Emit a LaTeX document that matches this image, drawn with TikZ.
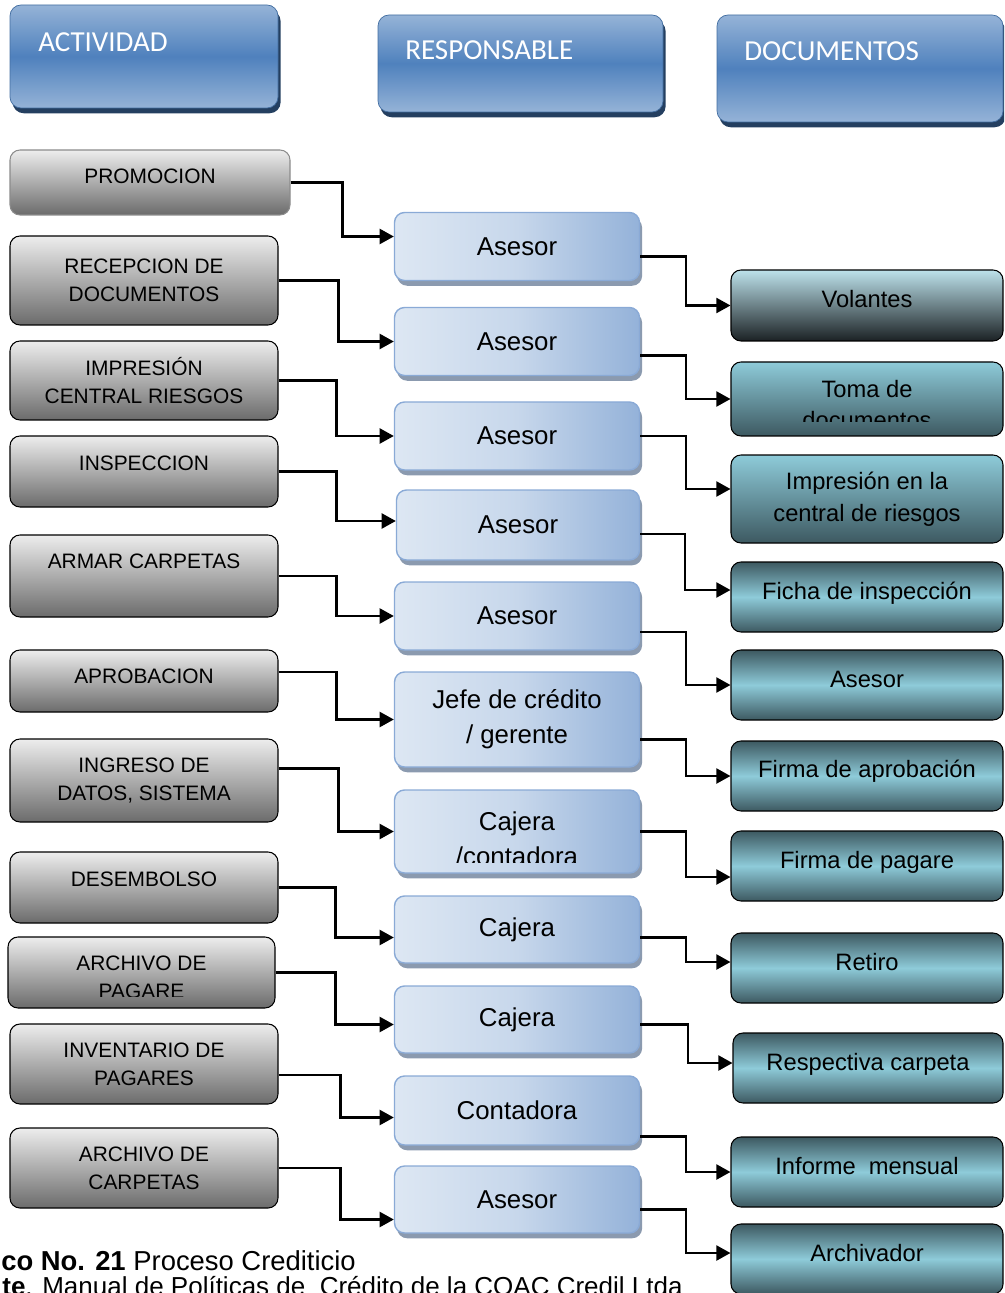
\documentclass[tikz,border=0pt]{standalone}
\usepackage{fontspec}
\setmainfont{Liberation Sans}
\newfontfamily\hdrfont{Carlito}
\usetikzlibrary{arrows.meta, shadows, calc}
\definecolor{hdrblue}{HTML}{4F81BD}
\definecolor{hdrlight}{HTML}{95B3D7}
\definecolor{hdrshadow}{HTML}{243F60}
\definecolor{resplight}{HTML}{DDE7F3}
\definecolor{respblue}{HTML}{94B2D9}
\definecolor{respedge}{HTML}{8AAAD6}
\definecolor{respshadow}{HTML}{8B9AAF}
\definecolor{doclight}{HTML}{8ECBD9}
\definecolor{docdark}{HTML}{3D5961}
\definecolor{docpale}{HTML}{BDE2EB}
\definecolor{docblack}{HTML}{1B2124}
\tikzset{%
	boxwh/.style 2 args={
		minimum width=#1*0.02cm,
		minimum height=#2*0.02cm
	},
	raised/.style={text depth=#1},
	raised/.default=7pt,
	header/.style={
		draw=hdrblue!85!black,
		rounded corners=0.22cm,
		top color=hdrlight, bottom color=hdrlight, middle color=hdrblue,
		drop shadow={shadow xshift=1.5pt, shadow yshift=-3pt, fill=hdrshadow, opacity=1},
		inner sep=0pt
	},
	htext/.style={anchor=west, text=white, font=\hdrfont\fontsize{16.5}{20}\selectfont, inner sep=0pt},
	actfont/.style={align=center, font=\fontsize{11.9}{15.9}\selectfont},
	act/.style={
		actfont,
		draw=black, line width=0.6pt,
		rounded corners=0.2cm,
		top color=black!7, bottom color=black!58,
		inner sep=0pt
	},
	respfont/.style={align=center, font=\fontsize{14.7}{19.8}\selectfont},
	resp/.style={
		respfont,
		draw=respedge, line width=0.8pt,
		rounded corners=0.2cm,
		left color=resplight, right color=respblue, middle color=resplight!70!respblue,
		drop shadow={shadow xshift=1.5pt, shadow yshift=-3pt, fill=respshadow, opacity=1},
		inner sep=0pt
	},
	docfont/.style={align=center, font=\fontsize{13.5}{18.1}\selectfont},
	doc/.style={
		docfont,
		draw=black, line width=0.6pt,
		rounded corners=0.2cm,
		top color=docdark, bottom color=docdark, middle color=doclight,
		inner sep=0pt
	},
	docfade/.style={doc, top color=doclight, bottom color=docdark},
	flow/.style={line width=1.3pt, -{Triangle[length=8pt, width=8.5pt]}}
}
\begin{document}
\begin{tikzpicture}[x=0.02cm, y=-0.02cm]
	\useasboundingbox (0,0) rectangle (1004,1293);
	\clip (0,0) rectangle (1004,1293);

	% encabezados
	\node[header, boxwh={268}{103}] (hact) at (144,56.5) {};
	\node[htext] (hactt) at (38,42) {ACTIVIDAD};
	\node[header, boxwh={285}{97}] (hresp) at (520.5,63.5) {};
	\node[htext] (hrespt) at (405,50) {RESPONSABLE};
	\node[header, boxwh={286}{107}] (hdoc) at (860,68.5) {};
	\node[htext] (hdoct) at (744,51) {DOCUMENTOS};

	% actividades
	\node[act, boxwh={280}{65}, draw=black!45, raised=6.8pt] (promo) at (150,182.5) {PROMOCION};
	\node[act, boxwh={268}{89}] (recep) at (144,280.5) {RECEPCION DE\\DOCUMENTOS};
	\node[act, boxwh={268}{79}] (impr) at (144,380.5) {IMPRESIÓN\\CENTRAL RIESGOS};
	\node[act, boxwh={268}{71}, raised=9pt] (insp) at (144,471.5) {INSPECCION};
	\node[act, boxwh={268}{82}, raised=17pt] (armar) at (144,576) {ARMAR CARPETAS};
	\node[act, boxwh={268}{62}, raised=5.7pt] (aprob) at (144,681) {APROBACION};
	\node[act, boxwh={268}{83}] (ingreso) at (144,780.5) {INGRESO DE\\DATOS, SISTEMA};
	\node[act, boxwh={268}{71}, raised=9pt] (desemb) at (144,887.5) {DESEMBOLSO};
	\node[act, boxwh={267}{71}] (archpag) at (141.5,972.5) {};
	\begin{scope}
		\clip (archpag.north west) rectangle (archpag.east |- 0,996);
		\node[actfont] (archpagt) at (141.5,977) {ARCHIVO DE\\PAGARE};
	\end{scope}
	\node[act, boxwh={268}{80}] (invent) at (144,1064) {INVENTARIO DE\\PAGARES};
	\node[act, boxwh={268}{80}] (archcarp) at (144,1168) {ARCHIVO DE\\CARPETAS};

	% responsables
	\node[resp, boxwh={245}{68}] (ase1) at (517,246.5) {Asesor};
	\node[resp, boxwh={245}{68}] (ase2) at (517,341.5) {Asesor};
	\node[resp, boxwh={245}{68}] (ase3) at (517,436) {Asesor};
	\node[resp, boxwh={243}{70}] (ase4) at (518,525) {Asesor};
	\node[resp, boxwh={245}{68}] (ase5) at (517,616) {Asesor};
	\node[resp, boxwh={245}{95}] (jefe) at (517,719.5) {Jefe de crédito\\/ gerente};
	\node[resp, boxwh={245}{83}] (cajcont) at (517,831.5) {};
	\begin{scope}
		\clip (cajcont.north west) rectangle (cajcont.east |- 0,862);
		\node[respfont] (cajcontt) at (517,838.5) {Cajera\\/contadora};
	\end{scope}
	\node[resp, boxwh={245}{67}] (caj1) at (517,929.5) {Cajera};
	\node[resp, boxwh={245}{67}] (caj2) at (517,1019.5) {Cajera};
	\node[resp, boxwh={245}{69}] (cont) at (517,1110.5) {Contadora};
	\node[resp, boxwh={245}{67}] (ase6) at (517,1199.5) {Asesor};

	% documentos
	\node[doc, boxwh={272}{71}, top color=docpale, bottom color=docblack, raised] (volan) at (867,305.5) {Volantes};
	\node[docfade, boxwh={272}{74}] (toma) at (867,399) {};
	\begin{scope}
		\clip (toma.north west) rectangle (toma.east |- 0,422);
		\node[docfont] (tomat) at (867,404.5) {Toma de\\documentos};
	\end{scope}
	\node[docfade, boxwh={272}{88}] (imprc) at (867,499) {Impresión en la\\central de riesgos};
	\node[doc, boxwh={272}{70}, raised] (ficha) at (867,597) {Ficha de inspección};
	\node[doc, boxwh={272}{70}, raised=6.8pt] (dase) at (867,685) {Asesor};
	\node[doc, boxwh={272}{70}, raised=8pt] (faprob) at (867,776) {Firma de aprobación};
	\node[doc, boxwh={272}{70}, raised=6.8pt] (fpag) at (867,866) {Firma de pagare};
	\node[doc, boxwh={272}{70}, raised=6.8pt] (retiro) at (867,968) {Retiro};
	\node[doc, boxwh={270}{70}, raised=6.8pt] (carpeta) at (868,1068) {Respectiva carpeta};
	\node[doc, boxwh={272}{70}, raised=6.8pt] (informe) at (867,1172) {Informe\ \ mensual};
	\node[doc, boxwh={272}{70}, raised=6.8pt] (archiv) at (867,1259) {Archivador};

	% actividad -> responsable
	\draw[flow] (promo.east) -- ++(52,0) |- ($(ase1.west)+(0,-10)$);
	\draw[flow] (recep.east) -- ++(60,0) |- (ase2.west);
	\draw[flow] (impr.east) -- ++(58,0) |- (ase3.west);
	\draw[flow] (insp.east) -- ++(58,0) |- ($(ase4.west)+(0,-4)$);
	\draw[flow] (armar.east) -- ++(58,0) |- (ase5.west);
	\draw[flow] ($(aprob.east)+(0,-9)$) -- ++(58,0) |- (jefe.west);
	\draw[flow] ($(ingreso.east)+(0,-12)$) -- ++(60,0) |- (cajcont.west);
	\draw[flow] (desemb.east) -- ++(57,0) |- ($(caj1.west)+(0,8)$);
	\draw[flow] (archpag.east) -- ++(60,0) |- ($(caj2.west)+(0,5)$);
	\draw[flow] ($(invent.east)+(0,11)$) -- ++(62,0) |- ($(cont.west)+(0,7)$);
	\draw[flow] (archcarp.east) -- ++(62,0) |- ($(ase6.west)+(0,20)$);

	% responsable -> documento
	\draw[flow] ($(ase1.east)+(0,10)$) -- ++(46,0) |- (volan.west);
	\draw[flow] ($(ase2.east)+(0,14)$) -- ++(46,0) |- (toma.west);
	\draw[flow] (ase3.east) -- ++(46,0) |- ($(imprc.west)+(0,-10)$);
	\draw[flow] ($(ase4.east)+(0,9)$) -- ++(45,0) |- ($(ficha.west)+(0,-7)$);
	\draw[flow] ($(ase5.east)+(0,16)$) -- ++(46,0) |- (dase.west);
	\draw[flow] ($(jefe.east)+(0,20)$) -- ++(46,0) |- (faprob.west);
	\draw[flow] (cajcont.east) -- ++(46,0) |- ($(fpag.west)+(0,11)$);
	\draw[flow] ($(caj1.east)+(0,8)$) -- ++(46,0) |- ($(retiro.west)+(0,-6)$);
	\draw[flow] ($(caj2.east)+(0,5)$) -- ++(48,0) |- ($(carpeta.west)+(0,-5)$);
	\draw[flow] ($(cont.east)+(0,26)$) -- ++(46,0) |- (informe.west);
	\draw[flow] ($(ase6.east)+(0,10)$) -- ++(46,0) |- ($(archiv.west)+(0,-6)$);

	% pie
	\node[anchor=base west, inner sep=0pt, font=\fontsize{15.6}{19}\selectfont] (cap1) at (1,1270) {\textbf{co No. 21} Proceso Crediticio};
	\node[anchor=base west, inner sep=0pt, font=\fontsize{14.8}{18}\selectfont] (cap2) at (2,1295) {\textbf{te}. Manual de Políticas de\ \ Crédito de la COAC Credil Ltda};
\end{tikzpicture}
\end{document}
